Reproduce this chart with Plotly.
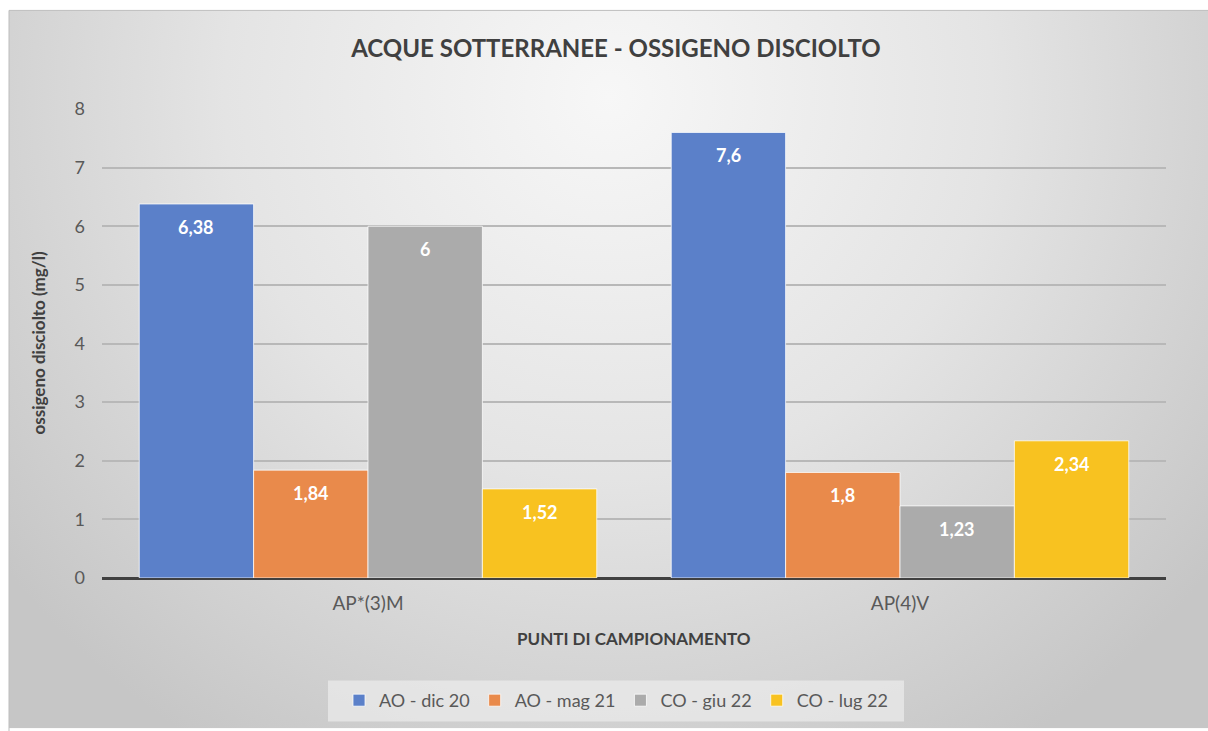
import base64
import plotly.graph_objects as go

categories = ["AP*(3)M", "AP(4)V"]
series_names = ["AO - dic 20", "AO - mag 21", "CO - giu 22", "CO - lug 22"]
ao_dic20 = [6.38, 7.6]
ao_mag21 = [1.84, 1.8]
co_giu22 = [6, 1.23]
co_lug22 = [1.52, 2.34]
series_values = [ao_dic20, ao_mag21, co_giu22, co_lug22]
colors = ["#5B80C9", "#E98A4B", "#ABABAB", "#F8C220"]
y_ticks = [0, 1, 2, 3, 4, 5, 6, 7, 8]

# body margin is removed by post_script, so figure fills the window
OFF = 0
W, H = 1208, 731
L, R, T, B = 102, 42, 109, 151
pw, ph = W - L - R, H - T - B
BARGAP = 0.14
FONT = "Lato"

def xp(px):  # screen x -> paper x
    return (px - OFF - L) / pw

def yp(py):  # screen y -> paper y
    return (T + ph - (py - OFF)) / ph

def fmt(v):
    s = ("%.2f" % v).rstrip("0").rstrip(".")
    return s.replace(".", ",")

fig = go.Figure()
for name, vals, col in zip(series_names, series_values, colors):
    fig.add_trace(go.Bar(
        x=categories, y=vals, name=name,
        marker=dict(color=col, line=dict(color="rgba(255,255,255,0.75)", width=1)),
        hoverinfo="skip",
    ))

# data labels (inside end, Excel-like padding)
bar_px = pw / len(categories) * (1 - BARGAP) / len(series_names)
ann = []
for i, vals in enumerate(series_values):
    for c, v in zip(categories, vals):
        ann.append(dict(
            x=c, y=v, xref="x", yref="y", text="<b>%s</b>" % fmt(v),
            showarrow=False, xshift=(i - 1.5) * bar_px, yshift=-23,
            font=dict(family=FONT, size=18, color="white"),
        ))

# axis titles
ann.append(dict(text="<b>ossigeno disciolto (mg/l)</b>", xref="paper", yref="paper",
                x=xp(38), y=0.5, xanchor="center", yanchor="middle",
                textangle=-90, showarrow=False,
                font=dict(family=FONT, size=17, color="#404040")))
ann.append(dict(text="<b>PUNTI DI CAMPIONAMENTO</b>", xref="paper", yref="paper",
                x=0.5, y=yp(641), xanchor="center", yanchor="middle", showarrow=False,
                font=dict(family=FONT, size=17, color="#404040")))

# radial gradient background (chart area frame)
fx0, fy0 = 9, 10
fw, fh = W - fx0, H - fy0
svg = f'''<svg xmlns="http://www.w3.org/2000/svg" width="{fw}" height="{fh}" viewBox="0 0 {fw} {fh}">
<defs><radialGradient id="g" gradientUnits="userSpaceOnUse" cx="{fw*0.5}" cy="{fh*0.12}" r="{fw*0.64}">
<stop offset="0" stop-color="#f7f7f7"/><stop offset="0.5" stop-color="#e4e4e4"/><stop offset="1" stop-color="#c6c6c6"/></radialGradient></defs>
<rect width="{fw}" height="{fh}" fill="url(#g)"/></svg>'''
src = "data:image/svg+xml;base64," + base64.b64encode(svg.encode()).decode()

images = [dict(source=src, xref="paper", yref="paper", x=xp(fx0), y=yp(fy0),
               sizex=fw / pw, sizey=fh / ph, xanchor="left", yanchor="top",
               sizing="stretch", layer="below")]

shapes = [
    dict(type="rect", xref="paper", yref="paper", x0=xp(fx0), x1=xp(W + 5),
         y0=yp(H + 5), y1=yp(fy0), line=dict(color="#bdbdbd", width=1), layer="below"),
    # legend box
    dict(type="rect", xref="paper", yref="paper", x0=xp(328), x1=xp(904),
         y0=yp(724), y1=yp(683),
         fillcolor="rgba(236,236,236,0.7)", line=dict(width=0), layer="below"),
]

fig.update_layout(
    width=W, height=H,
    margin=dict(l=L, r=R, t=T, b=B),
    paper_bgcolor="white", plot_bgcolor="rgba(0,0,0,0)",
    barmode="group", bargap=BARGAP, bargroupgap=0,
    title=dict(text="<b>ACQUE SOTTERRANEE - OSSIGENO DISCIOLTO</b>",
               x=(616 - OFF) / W, xanchor="center", y=1 - (49 - OFF) / H, yanchor="middle",
               font=dict(family=FONT, size=24, color="#404040")),
    font=dict(family=FONT, color="#595959"),
    legend=dict(orientation="h", x=xp(616), xanchor="center",
                y=yp(703), yanchor="middle",
                font=dict(family=FONT, size=18, color="#595959"),
                bgcolor="rgba(0,0,0,0)", itemwidth=30, traceorder="normal"),
    annotations=ann, images=images, shapes=shapes,
    showlegend=True,
)
fig.update_xaxes(showgrid=False, showline=False, ticks="", zeroline=False,
                 ticklabelstandoff=12,
                 tickfont=dict(family=FONT, size=19, color="#595959"))
fig.update_yaxes(range=[0, 8], tickvals=y_ticks, showgrid=True, gridcolor="#b8b8b8",
                 gridwidth=1.5, zeroline=True, zerolinecolor="#404040", zerolinewidth=3,
                 showline=False, ticks="", ticklabelstandoff=16,
                 tickfont=dict(family=FONT, size=18, color="#595959"))

fig.write_html("out.html", config={"displayModeBar": False},
               post_script="document.body.style.margin='0';document.body.style.overflow='hidden';")
